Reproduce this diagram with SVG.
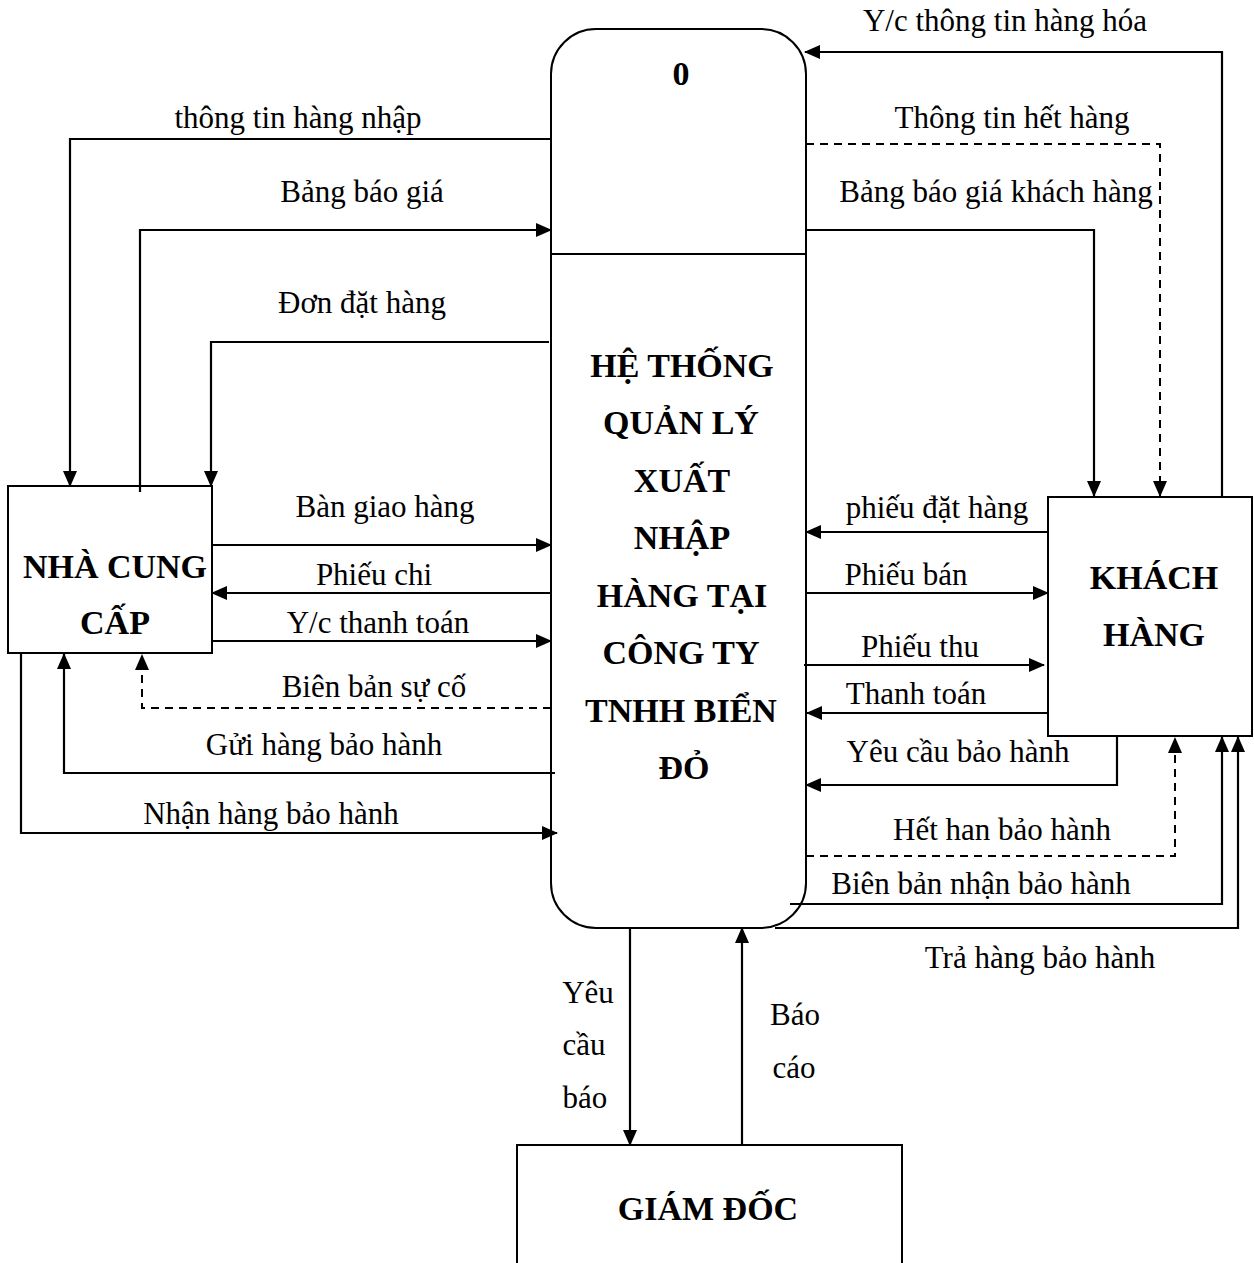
<svg xmlns="http://www.w3.org/2000/svg" width="1254" height="1263" viewBox="0 0 1254 1263">
<defs>
<style>
.box{fill:#fff;stroke:#000;stroke-width:2}
.c{fill:none;stroke:#000;stroke-width:2.2}
.d{fill:none;stroke:#000;stroke-width:2;stroke-dasharray:8 6}
.t{font-family:"Liberation Serif","Times New Roman",serif;font-size:31px;fill:#000;text-anchor:middle}
.b{font-family:"Liberation Serif","Times New Roman",serif;font-size:34px;font-weight:bold;fill:#000;text-anchor:middle}
</style>
<marker id="ah" markerUnits="userSpaceOnUse" markerWidth="16" markerHeight="14" refX="15" refY="7" orient="auto">
<path d="M0,0 L16,7 L0,14 Z" fill="#000"/>
</marker>
</defs>
<rect width="1254" height="1263" fill="#fff"/>

<g id="process0">
<rect class="box" x="551" y="29" width="255" height="899" rx="45" ry="45"/>
<line x1="551" y1="254" x2="806" y2="254" stroke="#000" stroke-width="2"/>
<text class="b" x="681" y="85">0</text>
<text class="b" x="682" y="377">HỆ THỐNG</text>
<text class="b" x="681" y="434">QUẢN LÝ</text>
<text class="b" x="682" y="492">XUẤT</text>
<text class="b" x="682" y="549">NHẬP</text>
<text class="b" x="682" y="607">HÀNG TẠI</text>
<text class="b" x="681" y="664">CÔNG TY</text>
<text class="b" x="681" y="722">TNHH BIỂN</text>
<text class="b" x="684" y="779">ĐỎ</text>
</g>

<g id="nha-cung-cap">
<rect class="box" x="8" y="486" width="204" height="167"/>
<text class="b" x="115" y="578">NHÀ CUNG</text>
<text class="b" x="115" y="634">CẤP</text>
</g>

<g id="khach-hang">
<rect class="box" x="1048" y="497" width="204" height="239"/>
<text class="b" x="1154" y="589">KHÁCH</text>
<text class="b" x="1154" y="646">HÀNG</text>
</g>

<g id="giam-doc">
<rect class="box" x="517" y="1145" width="385" height="140"/>
<text class="b" x="708" y="1220">GIÁM ĐỐC</text>
</g>

<g id="connectors">
<path class="c" d="M1222,497 V52 H805" marker-end="url(#ah)"/>
<path class="c" d="M551,139 H70 V486" marker-end="url(#ah)"/>
<path class="d" d="M806,144 H1160 V496" marker-end="url(#ah)"/>
<path class="c" d="M140,492 V230 H551" marker-end="url(#ah)"/>
<path class="c" d="M806,230 H1094 V496" marker-end="url(#ah)"/>
<path class="c" d="M549,342 H211 V486" marker-end="url(#ah)"/>
<path class="c" d="M212,545 H551" marker-end="url(#ah)"/>
<path class="c" d="M1048,532 H806" marker-end="url(#ah)"/>
<path class="c" d="M551,593 H212" marker-end="url(#ah)"/>
<path class="c" d="M807,593 H1048" marker-end="url(#ah)"/>
<path class="c" d="M212,641 H551" marker-end="url(#ah)"/>
<path class="c" d="M804,665 H1044" marker-end="url(#ah)"/>
<path class="d" d="M551,708 H142 V655" marker-end="url(#ah)"/>
<path class="c" d="M1048,713 H807" marker-end="url(#ah)"/>
<path class="c" d="M555,773 H64 V654" marker-end="url(#ah)"/>
<path class="c" d="M1117,736 V785 H806" marker-end="url(#ah)"/>
<path class="c" d="M21,653 V833 H557" marker-end="url(#ah)"/>
<path class="d" d="M806,856 H1175 V738" marker-end="url(#ah)"/>
<path class="c" d="M790,904 H1222 V737" marker-end="url(#ah)"/>
<path class="c" d="M775,928 H1238 V737" marker-end="url(#ah)"/>
<path class="c" d="M630,928 V1145" marker-end="url(#ah)"/>
<path class="c" d="M742,1145 V928" marker-end="url(#ah)"/>

<text class="t" x="1005" y="31">Y/c thông tin hàng hóa</text>
<text class="t" x="298" y="128">thông tin hàng nhập</text>
<text class="t" x="1012" y="128">Thông tin hết hàng</text>
<text class="t" x="362" y="202">Bảng báo giá</text>
<text class="t" x="996" y="202">Bảng báo giá khách hàng</text>
<text class="t" x="362" y="313">Đơn đặt hàng</text>
<text class="t" x="385" y="517">Bàn giao hàng</text>
<text class="t" x="937" y="518">phiếu đặt hàng</text>
<text class="t" x="374" y="585">Phiếu chi</text>
<text class="t" x="906" y="585">Phiếu bán</text>
<text class="t" x="378" y="633">Y/c thanh toán</text>
<text class="t" x="920" y="657">Phiếu thu</text>
<text class="t" x="374" y="697">Biên bản sự cố</text>
<text class="t" x="916" y="704">Thanh toán</text>
<text class="t" x="324" y="755">Gửi hàng bảo hành</text>
<text class="t" x="958" y="762">Yêu cầu bảo hành</text>
<text class="t" x="271" y="824">Nhận hàng bảo hành</text>
<text class="t" x="1002" y="840">Hết han bảo hành</text>
<text class="t" x="981" y="894">Biên bản nhận bảo hành</text>
<text class="t" x="1040" y="968">Trả hàng bảo hành</text>
<text class="t" x="588" y="1003">Yêu</text>
<text class="t" x="584" y="1055">cầu</text>
<text class="t" x="585" y="1108">báo</text>
<text class="t" x="795" y="1025">Báo</text>
<text class="t" x="794" y="1078">cáo</text>
</g>
</svg>
